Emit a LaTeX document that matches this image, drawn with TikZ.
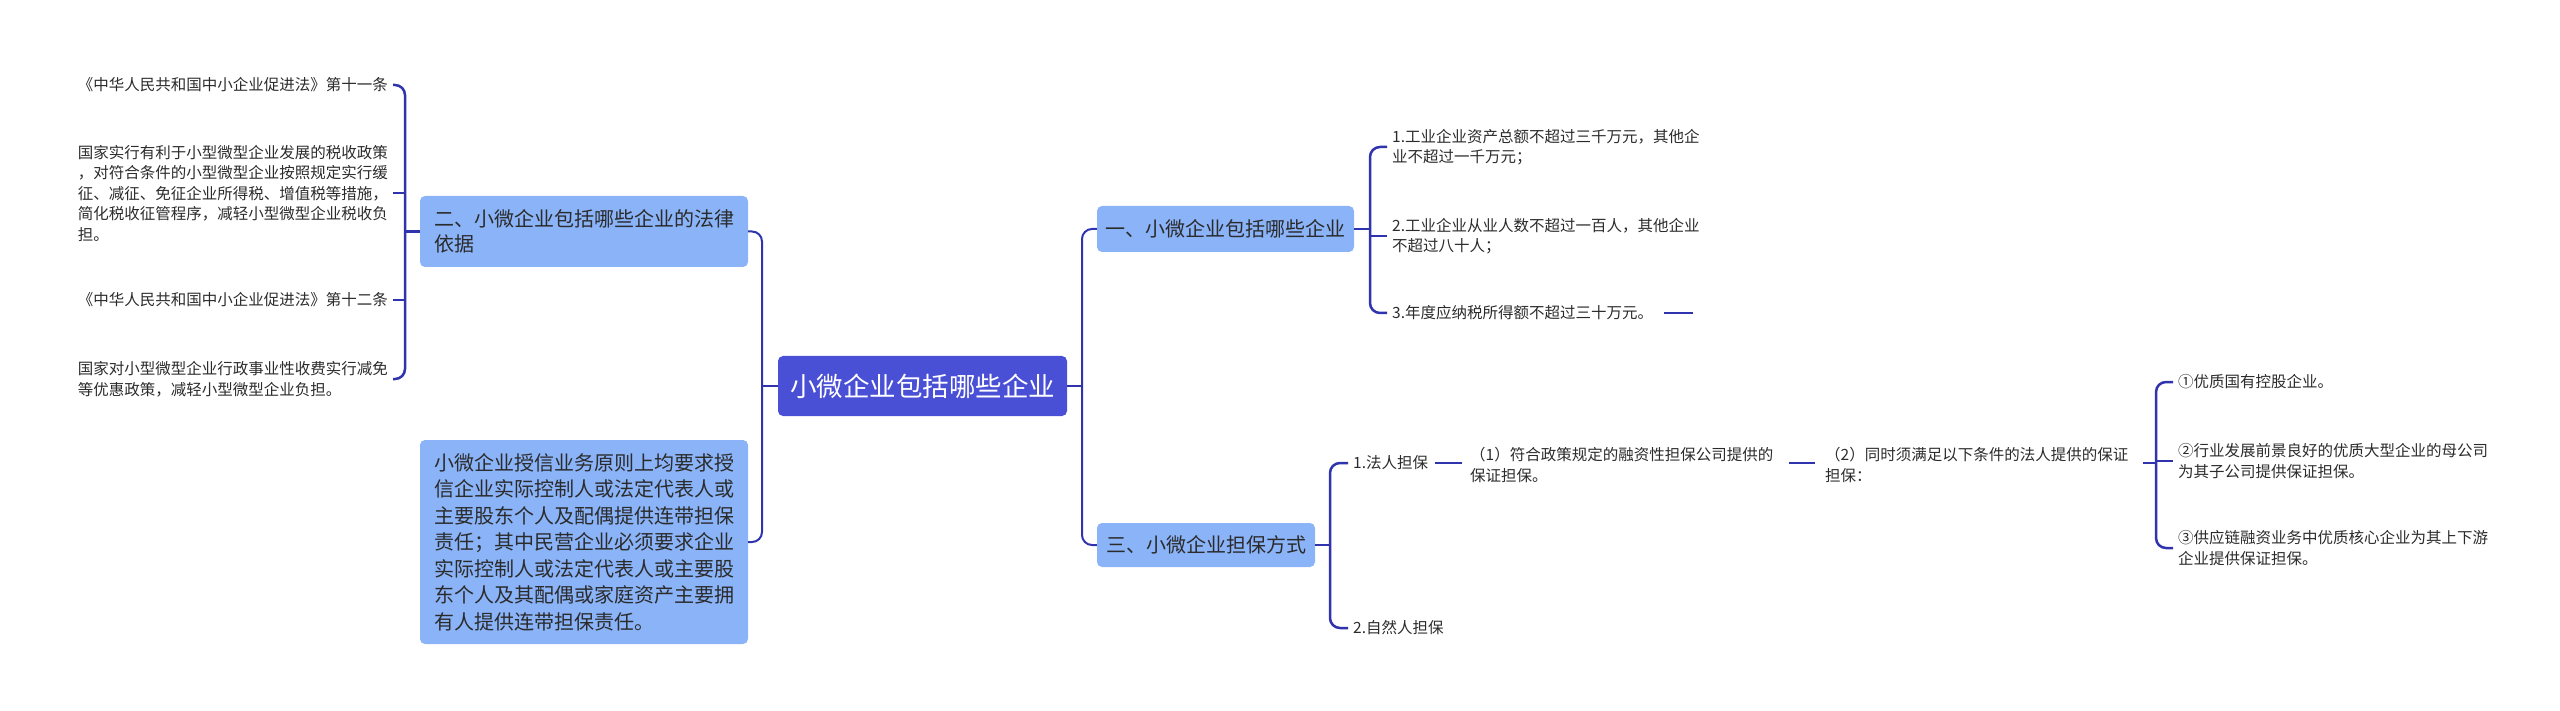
\documentclass[tikz,border=0pt]{standalone}
\usepackage{fontspec}
\setmainfont{Noto Sans CJK SC}
\definecolor{rootc}{HTML}{4A50D6}
\definecolor{mainc}{HTML}{8AB3F8}
\definecolor{linec}{HTML}{2F33AE}
\definecolor{txtc}{HTML}{2B2B2B}
\begin{document}
\begin{tikzpicture}[x=1pt,y=-1pt,
  leaf/.style={inner xsep=5pt, inner ysep=2pt, align=left, text=txtc, font=\fontsize{15.5}{20.5}\selectfont},
  mainbox/.style={fill=mainc, rounded corners=5pt, text=txtc, align=left, inner sep=0pt, font=\fontsize{20}{25}\selectfont},
  rootbox/.style={fill=rootc, rounded corners=5pt, text=white, inner sep=0pt, font=\fontsize{26.5}{30}\selectfont},
  conn/.style={draw=linec, line width=2.5pt, rounded corners=10pt},
  rconn/.style={draw=linec, line width=2pt, rounded corners=10pt}]
\useasboundingbox (0,0) rectangle (2560,711);

% bracket x positions
\coordinate (bl) at (405,0);
\coordinate (rl) at (762,0);
\coordinate (rr) at (1082,0);
\coordinate (b1) at (1370,0);
\coordinate (b3) at (1330,0);
\coordinate (b5) at (2156,0);

% main nodes
\node[rootbox, minimum width=289pt, minimum height=60pt] (root) at (922.5,386) {小微企业包括哪些企业};
\node[mainbox, minimum width=257pt, minimum height=46pt] (n1) at (1225.5,229) {一、小微企业包括哪些企业};
\node[mainbox, minimum width=328pt, minimum height=71pt] (n2) at (584,231.5) {二、小微企业包括哪些企业的法律\\依据};
\node[mainbox, minimum width=328pt, minimum height=204pt, font=\fontsize{20}{26.5}\selectfont] (n4) at (584,542) {小微企业授信业务原则上均要求授\\信企业实际控制人或法定代表人或\\主要股东个人及配偶提供连带担保\\责任；其中民营企业必须要求企业\\实际控制人或法定代表人或主要股\\东个人及其配偶或家庭资产主要拥\\有人提供连带担保责任。};
\node[mainbox, minimum width=218pt, minimum height=44pt] (n3) at (1206,545) {三、小微企业担保方式};

% left leaves
\node[leaf, anchor=east] (l1) at (393,85) {《中华人民共和国中小企业促进法》第十一条};
\node[leaf, anchor=east] (l2) at (393,193) {国家实行有利于小型微型企业发展的税收政策\\，对符合条件的小型微型企业按照规定实行缓\\征、减征、免征企业所得税、增值税等措施，\\简化税收征管程序，减轻小型微型企业税收负\\担。};
\node[leaf, anchor=east] (l3) at (393,300) {《中华人民共和国中小企业促进法》第十二条};
\node[leaf, anchor=east] (l4) at (393,379) {国家对小型微型企业行政事业性收费实行减免\\等优惠政策，减轻小型微型企业负担。};

% right leaves of n1
\node[leaf, anchor=west] (c1) at (1387,147) {1.工业企业资产总额不超过三千万元，其他企\\业不超过一千万元；};
\node[leaf, anchor=west] (c2) at (1387,236) {2.工业企业从业人数不超过一百人，其他企业\\不超过八十人；};
\node[leaf, anchor=west] (c3) at (1387,313) {3.年度应纳税所得额不超过三十万元。};

% leaves of n3
\node[leaf, anchor=west] (d1) at (1348,463) {1.法人担保};
\node[leaf, anchor=west] (d2) at (1348,628) {2.自然人担保};
\node[leaf, anchor=west] (e1) at (1465,465) {（1）符合政策规定的融资性担保公司提供的\\保证担保。};
\node[leaf, anchor=west] (f1) at (1820,465) {（2）同时须满足以下条件的法人提供的保证\\担保：};
\node[leaf, anchor=west] (g1) at (2173,382) {①优质国有控股企业。};
\node[leaf, anchor=west] (g2) at (2173,461) {②行业发展前景良好的优质大型企业的母公司\\为其子公司提供保证担保。};
\node[leaf, anchor=west] (g3) at (2173,548) {③供应链融资业务中优质核心企业为其上下游\\企业提供保证担保。};

% root connectors
\draw[rconn] (n2.east) -- (n2.east -| rl) -- (n4.east -| rl) -- (n4.east);
\draw[rconn] (root.west) -- (root.west -| rl);
\draw[rconn] (n1.west) -- (n1.west -| rr) -- (n3.west -| rr) -- (n3.west);
\draw[rconn] (root.east) -- (root.east -| rr);

% left bracket
\draw[conn] (l1.east) -- (l1.east -| bl) -- (l4.east -| bl) -- (l4.east);
\draw[conn] (l2.east) -- (l2.east -| bl);
\draw[conn] (l3.east) -- (l3.east -| bl);
\draw[conn] (n2.west) -- (n2.west -| bl);

% n1 bracket
\draw[conn] (c1.west) -- (c1.west -| b1) -- (c3.west -| b1) -- (c3.west);
\draw[conn] (c2.west) -- (c2.west -| b1);
\draw[conn] (n1.east) -- (n1.east -| b1);
\draw[conn] ([xshift=6pt]c3.east) -- ++(29,0);

% n3 bracket
\draw[conn] (d1.west) -- (d1.west -| b3) -- (d2.west -| b3) -- (d2.west);
\draw[conn] (n3.east) -- (n3.east -| b3);
\draw[conn, shorten <=2pt, shorten >=3pt] (d1.east) -- (d1.east -| e1.west);
\draw[conn, shorten <=10pt, shorten >=5pt] (e1.east |- d1.east) -- (f1.west |- d1.east);

% f1 bracket
\draw[conn] (g1.west) -- (g1.west -| b5) -- (g3.west -| b5) -- (g3.west);
\draw[conn] (g2.west) -- (g2.west -| b5);
\draw[conn, shorten <=9pt] (f1.east |- d1.east) -- (d1.east -| b5);
\end{tikzpicture}
\end{document}
